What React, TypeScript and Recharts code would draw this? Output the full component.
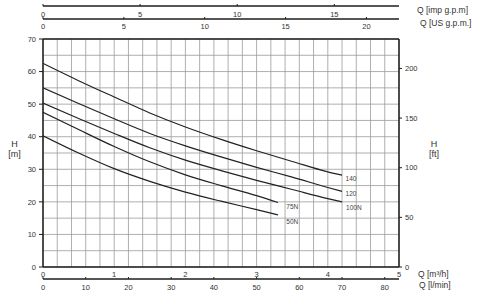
import React from 'react';
import { ComposedChart, Line, XAxis, YAxis, CartesianGrid, LabelList } from 'recharts';

// ---- data ----
const Q_LONG = [0, 0.5, 1, 1.5, 2, 2.5, 3, 3.5, 4, 4.2];
const Q_SHORT = [0, 0.5, 1, 1.5, 2, 2.5, 3, 3.3];
const H_140 = [62.5, 57.2, 52.2, 47.3, 43.0, 39.2, 35.7, 32.4, 29.2, 28.2];
const H_120 = [55.0, 50.2, 45.5, 41.0, 37.2, 33.8, 30.6, 27.6, 24.4, 23.2];
const H_100N = [50.3, 45.6, 41.0, 36.6, 32.8, 29.6, 26.6, 23.8, 21.0, 20.0];
const H_75N = [47.5, 42.2, 37.0, 32.3, 28.3, 25.0, 21.9, 19.8];
const H_50N = [40.3, 35.0, 30.2, 26.3, 23.0, 20.2, 17.6, 16.0];
const SERIES_NAMES = ['140', '120', '100N', '75N', '50N'];

// ---- ticks ----
const Q_M3H_TICKS = [0, 1, 2, 3, 4, 5];
const Q_LMIN_TICKS = [0, 10, 20, 30, 40, 50, 60, 70, 80];
const Q_IMP_TICKS = [0, 5, 10, 15];
const Q_US_TICKS = [0, 5, 10, 15, 20];
const H_M_TICKS = [0, 10, 20, 30, 40, 50, 60, 70];
const H_FT_TICKS = [0, 50, 100, 150, 200];
const GRID_Q = [0, 0.2, 0.4, 0.6, 0.8, 1, 1.2, 1.4, 1.6, 1.8, 2, 2.2, 2.4, 2.6, 2.8, 3, 3.2, 3.4, 3.6, 3.8, 4, 4.2, 4.4, 4.6, 4.8, 5];
const GRID_H = [0, 5, 10, 15, 20, 25, 30, 35, 40, 45, 50, 55, 60, 65, 70];

// ---- unit conversions ----
const Q_MAX = 5;
const H_MAX = 70;
const LMIN_PER_M3H = 1000 / 60;
const IMP_PER_M3H = 3.66615;
const US_PER_M3H = 4.40287;
const FT_PER_M = 3.28084;

// ---- style ----
const FONT = '"Liberation Sans", Arial, Helvetica, sans-serif';
const TEXT = '#333';
const FRAME = '#1e1e1e';
const CURVE = '#222';
const LABEL_OFFSETS: Record<string, [number, number]> = {
  '140': [3.5, 6.3],
  '120': [3.5, 5],
  '100N': [4, 8.3],
  '75N': [8.4, 6.3],
  '50N': [8.4, 9],
};

const toPoints = (qs: number[], hs: number[]) => qs.map((q, i) => ({ q, h: hs[i] }));
const SERIES = [
  { name: SERIES_NAMES[0], data: toPoints(Q_LONG, H_140) },
  { name: SERIES_NAMES[1], data: toPoints(Q_LONG, H_120) },
  { name: SERIES_NAMES[2], data: toPoints(Q_LONG, H_100N) },
  { name: SERIES_NAMES[3], data: toPoints(Q_SHORT, H_75N) },
  { name: SERIES_NAMES[4], data: toPoints(Q_SHORT, H_50N) },
];
// flow rows in every unit, used by the secondary flow axes
const FLOW_ROWS = Q_M3H_TICKS.map((q) => ({
  q,
  lmin: q * LMIN_PER_M3H,
  us: q * US_PER_M3H,
  imp: q * IMP_PER_M3H,
}));

function RulerTick(props: any) {
  const { x, y, payload, labelDy } = props;
  if (x == null || y == null) return null;
  return (
    <g>
      <line x1={x} x2={x} y1={y - 2} y2={y} stroke={FRAME} strokeWidth={1} />
      <text x={x} y={y + labelDy} textAnchor="middle" fontSize={7.5} fill={TEXT} fontFamily={FONT}>
        {payload?.value}
      </text>
    </g>
  );
}

const qTitle = (text: string, dx: number, dy: number) => (props: any) => {
  const vb = props.viewBox || {};
  return (
    <text x={vb.x + vb.width + dx} y={vb.y + dy} fontSize={8.5} fill={TEXT} fontFamily={FONT}>
      {text}
    </text>
  );
};

const hTitle = (lines: string[], dx: number) => (props: any) => {
  const vb = props.viewBox || {};
  const cx = vb.x + dx;
  const cy = vb.y + vb.height / 2;
  return (
    <text textAnchor="middle" fontSize={9} fill={TEXT} fontFamily={FONT}>
      <tspan x={cx} y={cy - 6}>{lines[0]}</tspan>
      <tspan x={cx} y={cy + 4}>{lines[1]}</tspan>
    </text>
  );
};

const endLabel = (name: string, lastIndex: number) => (props: any) => {
  if (props.index !== lastIndex) return null;
  const x = props.x ?? props.viewBox?.x;
  const y = props.y ?? props.viewBox?.y;
  const [dx, dy] = LABEL_OFFSETS[name];
  return (
    <text x={x + dx} y={y + dy} fontSize={6.5} fill="#444" fontFamily={FONT}>
      {name}
    </text>
  );
};

const frameLine = { stroke: FRAME, strokeWidth: 1.5 };

export default function App() {
  return (
    <div style={{ position: 'absolute', left: 0, top: 0, width: 480, height: 296, background: '#fff' }}>
      <ComposedChart width={480} height={296} data={FLOW_ROWS} margin={{ top: 0, right: 0, bottom: 0, left: 0 }}>
        <CartesianGrid
          xAxisId="a_q"
          yAxisId="m"
          stroke="#9a9a9a"
          strokeWidth={0.8}
          verticalValues={GRID_Q}
          horizontalValues={GRID_H}
        />
        <XAxis
          xAxisId="a_q"
          type="number"
          dataKey="q"
          domain={[0, Q_MAX]}
          allowDataOverflow
          ticks={Q_M3H_TICKS}
          interval={0}
          orientation="bottom"
          height={12}
          tickSize={0}
          tickMargin={5}
          tickLine={false}
          axisLine={frameLine}
          tick={{ fontSize: 7.5, fill: TEXT, fontFamily: FONT }}
          label={qTitle('Q [m³/h]', 19, 10)}
        />
        <XAxis
          xAxisId="b_lmin"
          type="number"
          dataKey="lmin"
          domain={[0, Q_MAX * LMIN_PER_M3H]}
          allowDataOverflow
          ticks={Q_LMIN_TICKS}
          interval={0}
          orientation="bottom"
          height={17}
          tickSize={0}
          tickMargin={0}
          tickLine={false}
          axisLine={frameLine}
          tick={<RulerTick labelDy={11} />}
          label={qTitle('Q [l/min]', 20, 9.3)}
        />
        <XAxis
          xAxisId="a_frame"
          type="number"
          dataKey="q"
          domain={[0, Q_MAX]}
          allowDataOverflow
          orientation="top"
          height={20}
          tick={false}
          tickLine={false}
          axisLine={frameLine}
        />
        <XAxis
          xAxisId="b_us"
          type="number"
          dataKey="us"
          domain={[0, Q_MAX * US_PER_M3H]}
          allowDataOverflow
          ticks={Q_US_TICKS}
          interval={0}
          orientation="top"
          height={13}
          tickSize={0}
          tickMargin={0}
          tickLine={false}
          axisLine={frameLine}
          tick={<RulerTick labelDy={10.4} />}
          label={qTitle('Q [US g.p.m.]', 21, 19.7)}
        />
        <XAxis
          xAxisId="c_imp"
          type="number"
          dataKey="imp"
          domain={[0, Q_MAX * IMP_PER_M3H]}
          allowDataOverflow
          ticks={Q_IMP_TICKS}
          interval={0}
          orientation="top"
          height={6}
          tickSize={0}
          tickMargin={0}
          tickLine={false}
          axisLine={frameLine}
          tick={<RulerTick labelDy={10.7} />}
          label={qTitle('Q [imp g.p.m]', 18, 13)}
        />
        <YAxis
          yAxisId="m"
          type="number"
          domain={[0, H_MAX]}
          allowDataOverflow
          ticks={H_M_TICKS}
          interval={0}
          width={43}
          tickSize={4}
          tickMargin={3}
          tickLine={{ stroke: FRAME }}
          axisLine={frameLine}
          tick={{ fontSize: 7.5, fill: TEXT, fontFamily: FONT }}
          label={hTitle(['H', '[m]'], 14.5)}
        />
        <YAxis
          yAxisId="ft"
          orientation="right"
          type="number"
          domain={[0, H_MAX * FT_PER_M]}
          allowDataOverflow
          ticks={H_FT_TICKS}
          interval={0}
          width={81}
          tickSize={3}
          tickMargin={3}
          tickLine={{ stroke: FRAME }}
          axisLine={frameLine}
          tick={{ fontSize: 7.5, fill: TEXT, fontFamily: FONT }}
          label={hTitle(['H', '[ft]'], 35)}
        />
        {SERIES.map((s) => (
          <Line
            key={s.name}
            data={s.data}
            xAxisId="a_q"
            yAxisId="m"
            dataKey="h"
            type="monotone"
            dot={false}
            activeDot={false}
            stroke={CURVE}
            strokeWidth={1.2}
            isAnimationActive={false}
          >
            <LabelList dataKey="h" content={endLabel(s.name, s.data.length - 1)} />
          </Line>
        ))}
      </ComposedChart>
    </div>
  );
}
